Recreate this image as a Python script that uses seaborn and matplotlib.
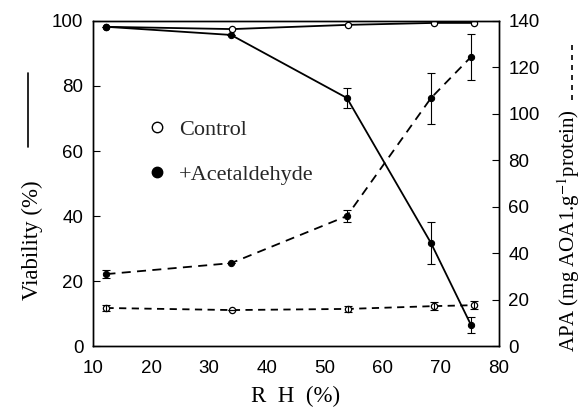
import matplotlib
matplotlib.use("Agg")
import matplotlib.pyplot as plt
from matplotlib.lines import Line2D
import seaborn as sns
import pandas as pd

sns.set_theme(style="white")
plt.rcParams["font.family"] = ["Liberation Sans", "DejaVu Sans"]
plt.rcParams["mathtext.fontset"] = "stix"

# Relative humidity (%) for the five storage conditions
rh_control = [12.3, 34.0, 54.0, 68.8, 75.7]
rh_acet = [12.3, 33.8, 53.8, 68.3, 75.2]

# Viability (%) - left axis, solid lines
viab_control = [98.2, 97.5, 98.8, 99.4, 99.4]
viab_acet = [98.2, 95.7, 76.3, 31.7, 6.5]
viab_acet_err = [0.0, 0.0, 3.0, 6.5, 2.5]

# APA (mg AOA1 per g protein) - right axis, dashed lines
apa_control = [16.4, 15.5, 16.0, 17.2, 17.6]
apa_control_err = [1.2, 0.0, 1.2, 1.8, 1.6]
apa_acet = [31.0, 35.7, 56.0, 106.8, 124.5]
apa_acet_err = [1.8, 0.0, 2.5, 11.0, 10.0]

xticks = [10, 20, 30, 40, 50, 60, 70, 80]
left_ticks = [0, 20, 40, 60, 80, 100]
right_ticks = [0, 20, 40, 60, 80, 100, 120, 140]

fig = plt.figure(figsize=(5.82, 4.11), dpi=100)
ax = fig.add_axes([0.160, 0.158, 0.697, 0.791])
ax2 = ax.twinx()

df_c = pd.DataFrame({"rh": rh_control, "viab": viab_control, "apa": apa_control})
df_a = pd.DataFrame({"rh": rh_acet, "viab": viab_acet, "apa": apa_acet})

lw = 1.3
ms = 4.5
# Viability
sns.lineplot(data=df_c, x="rh", y="viab", ax=ax, color="black", lw=lw,
             marker="o", markersize=ms, markerfacecolor="white",
             markeredgecolor="black", markeredgewidth=0.9)
sns.lineplot(data=df_a, x="rh", y="viab", ax=ax, color="black", lw=lw,
             marker="o", markersize=ms, markerfacecolor="black",
             markeredgecolor="black")
ax.errorbar(rh_acet, viab_acet, yerr=viab_acet_err, fmt="none",
            ecolor="black", elinewidth=0.8, capsize=3, capthick=0.8)

# APA
sns.lineplot(data=df_c, x="rh", y="apa", ax=ax2, color="black", lw=lw,
             linestyle=(0, (4, 3)), marker="o", markersize=ms,
             markerfacecolor="white", markeredgecolor="black",
             markeredgewidth=0.9)
sns.lineplot(data=df_a, x="rh", y="apa", ax=ax2, color="black", lw=lw,
             linestyle=(0, (5, 3.5)), marker="o", markersize=ms,
             markerfacecolor="black", markeredgecolor="black")
ax2.errorbar(rh_control, apa_control, yerr=apa_control_err, fmt="none",
             ecolor="black", elinewidth=0.8, capsize=3, capthick=0.8)
ax2.errorbar(rh_acet, apa_acet, yerr=apa_acet_err, fmt="none",
             ecolor="black", elinewidth=0.8, capsize=3, capthick=0.8)

ax.set_xlim(10, 80)
ax.set_ylim(0, 100)
ax2.set_ylim(0, 140)
ax.set_xticks(xticks)
ax.set_yticks(left_ticks)
ax2.set_yticks(right_ticks)
ax.set_xlabel("")
ax.set_ylabel("")
ax2.set_ylabel("")

for a in (ax, ax2):
    a.tick_params(direction="in", length=5, width=0.8, labelsize=13.5,
                  colors="black", pad=7)
    for s in a.spines.values():
        s.set_color("black")
        s.set_linewidth(1.0)
ax.tick_params(axis="x", pad=10)

# Legend
handles = [
    Line2D([], [], ls="none", marker="o", markersize=7.5,
           markerfacecolor="white", markeredgecolor="black"),
    Line2D([], [], ls="none", marker="o", markersize=7.5,
           markerfacecolor="black", markeredgecolor="black"),
]
ax.legend(handles, ["Control", "+Acetaldehyde"], loc="upper left",
          bbox_to_anchor=(0.08, 0.76), frameon=False,
          prop={"family": "Liberation Serif", "size": 16},
          handletextpad=0.5, labelspacing=1.1, handlelength=1.0)

# Axis titles with line-style keys
serif = {"family": "Liberation Serif", "size": 16.5, "color": "black"}
fig.text(0.5 * (0.160 + 0.857), 0.01, "R  H  (%)", ha="center",
         va="bottom", **serif)
fig.text(0.056, 0.415, "Viability (%)", rotation=90, ha="center",
         va="center", **serif)
fig.add_artist(Line2D([0.048, 0.048], [0.642, 0.822], color="black",
                      lw=1.2, transform=fig.transFigure))
fig.text(0.977, 0.44, "APA (mg AOA1.g$^{-1}$protein)", rotation=90,
         ha="center", va="center",
         **{**serif, "size": 15})
fig.add_artist(Line2D([0.983, 0.983], [0.757, 0.895], color="black",
                      lw=1.2, ls=(0, (3, 3)), transform=fig.transFigure))

fig.savefig("out.png", dpi=100, facecolor="white")
